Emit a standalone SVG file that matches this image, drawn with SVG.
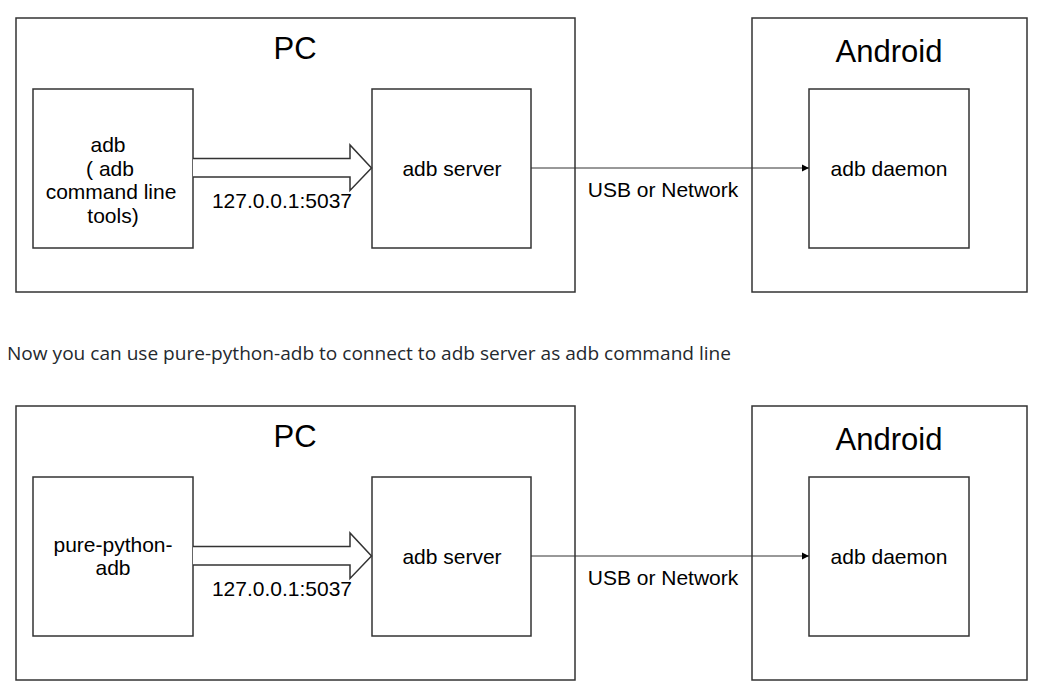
<svg xmlns="http://www.w3.org/2000/svg" width="1043" height="692" viewBox="0 0 1043 692">
<style>
.box{fill:#fff;stroke:#333;stroke-width:1.5}
.t{font-family:"Liberation Sans",Arial,sans-serif;fill:#000;text-anchor:middle}
.big{font-size:31px}
.n{font-size:21px}
.conn{fill:none;stroke:#333;stroke-width:1}
.block{fill:#fff;stroke:#333;stroke-width:1.5;stroke-linejoin:miter}
.note{font-family:"Open Sans","Noto Sans",sans-serif;font-size:18.5px;fill:#24292e}
</style>
<defs>
<marker id="ah" markerWidth="8" markerHeight="8" refX="7" refY="4" orient="auto" markerUnits="userSpaceOnUse">
<path d="M0,0.5 L7,4 L0,7.5 Z" fill="#000"/>
</marker>
</defs>
<rect width="1043" height="692" fill="#fff"/>

<g id="pc1"><rect class="box" x="16" y="18" width="559" height="274"/><text class="t big" x="295" y="59">PC</text></g>
<g id="android1"><rect class="box" x="752" y="18" width="275" height="274"/><text class="t big" x="889" y="62">Android</text></g>
<g id="adb1"><rect class="box" x="33" y="89" width="160" height="159"/>
<text class="t n" x="108" y="152">adb</text>
<text class="t n" x="110" y="176">( adb</text>
<text class="t n" x="111" y="199">command line</text>
<text class="t n" x="113" y="223">tools)</text></g>
<g id="server1"><rect class="box" x="372" y="89" width="159" height="159"/><text class="t n" x="452" y="176">adb server</text></g>
<g id="daemon1"><rect class="box" x="809" y="89" width="160" height="159"/><text class="t n" x="889" y="176">adb daemon</text></g>

<g id="pc2"><rect class="box" x="16" y="406" width="559" height="274"/><text class="t big" x="295" y="447">PC</text></g>
<g id="android2"><rect class="box" x="752" y="406" width="275" height="274"/><text class="t big" x="889" y="450">Android</text></g>
<g id="ppa2"><rect class="box" x="33" y="477" width="160" height="159"/>
<text class="t n" x="113" y="552">pure-python-</text>
<text class="t n" x="113" y="575">adb</text></g>
<g id="server2"><rect class="box" x="372" y="477" width="159" height="159"/><text class="t n" x="452" y="564">adb server</text></g>
<g id="daemon2"><rect class="box" x="809" y="477" width="160" height="159"/><text class="t n" x="889" y="564">adb daemon</text></g>

<g id="connectors">
<path class="block" d="M193,158.5 L350,158.5 L350,145 L371.5,168 L350,190.5 L350,177 L193,177"/>
<text class="t n" x="282" y="208">127.0.0.1:5037</text>
<line class="conn" x1="531" y1="168" x2="809" y2="168" marker-end="url(#ah)"/>
<text class="t n" x="663" y="197">USB or Network</text>

<path class="block" d="M193,546.5 L350,546.5 L350,533 L371.5,556 L350,578.5 L350,565 L193,565"/>
<text class="t n" x="282" y="596">127.0.0.1:5037</text>
<line class="conn" x1="531" y1="556" x2="809" y2="556" marker-end="url(#ah)"/>
<text class="t n" x="663" y="585">USB or Network</text>
</g>

<text class="note" x="7" y="360" textLength="724" lengthAdjust="spacingAndGlyphs">Now you can use pure-python-adb to connect to adb server as adb command line</text>
</svg>
